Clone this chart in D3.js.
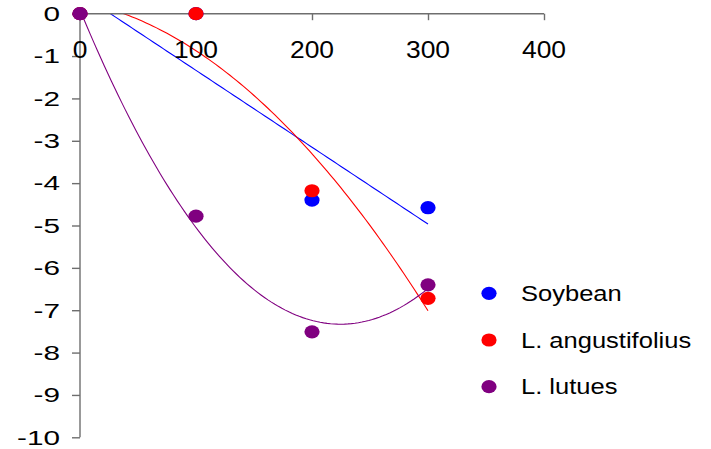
<!DOCTYPE html>
<html>
<head>
<meta charset="utf-8">
<script src="https://cdn.jsdelivr.net/npm/d3@7"></script>
<style>
  html, body { margin: 0; padding: 0; background: #fff; }
  svg { display: block; font-family: "Liberation Sans", Arial, sans-serif; }
</style>
</head>
<body>
<svg id="chart" width="711" height="449"></svg>
<script>
// Dose levels on the x axis
const doses = [0, 100, 200, 300];
// Response per species at each dose
const soybean = [0, 0, -4.4, -4.58];
const angustifolius = [0, 0, -4.18, -6.72];
const lutues = [0, -4.78, -7.51, -6.40];
// Series names and colours, in drawing order
const seriesNames = ["Soybean", "L. angustifolius", "L. lutues"];
const seriesColors = ["#0000ff", "#ff0000", "#800080"];
// Trendline polynomial order per series (1 = linear)
const trendOrders = [1, 2, 2];
// Axis ticks
const xTicks = [0, 100, 200, 300, 400];
const yTicks = [0, -1, -2, -3, -4, -5, -6, -7, -8, -9, -10];

const seriesValues = [soybean, angustifolius, lutues];

const svg = d3.select("#chart");
const x = d3.scaleLinear().domain([0, 400]).range([80, 544]);
const y = d3.scaleLinear().domain([-10, 0]).range([437.3, 13.7]);

// Least-squares polynomial fit through the normal equations
function polyFit(xs, ys, order) {
  const n = order + 1;
  const A = Array.from({length: n}, () => new Array(n + 1).fill(0));
  for (let i = 0; i < n; i++) {
    for (let j = 0; j < n; j++) {
      A[i][j] = d3.sum(xs, v => Math.pow(v, i + j));
    }
    A[i][n] = d3.sum(xs, (v, k) => Math.pow(v, i) * ys[k]);
  }
  for (let c = 0; c < n; c++) {
    let p = c;
    for (let r = c + 1; r < n; r++) if (Math.abs(A[r][c]) > Math.abs(A[p][c])) p = r;
    [A[c], A[p]] = [A[p], A[c]];
    for (let r = 0; r < n; r++) {
      if (r === c) continue;
      const f = A[r][c] / A[c][c];
      for (let k = c; k <= n; k++) A[r][k] -= f * A[c][k];
    }
  }
  const coef = A.map((row, i) => row[n] / row[i]);
  return v => coef.reduce((s, a, i) => s + a * Math.pow(v, i), 0);
}

svg.append("clipPath").attr("id", "plot")
  .append("rect")
  .attr("x", x(0)).attr("y", y(0))
  .attr("width", x(400) - x(0)).attr("height", y(-10) - y(0));

// Trendlines
const line = d3.line().x(d => x(d[0])).y(d => y(d[1]));
const trendGroup = svg.append("g").attr("clip-path", "url(#plot)");
seriesValues.forEach((vals, si) => {
  const f = polyFit(doses.map(d => d / 100), vals, trendOrders[si]);
  const pts = d3.range(0, 301, 3).map(v => [v, f(v / 100)]);
  trendGroup.append("path")
    .attr("d", line(pts))
    .attr("fill", "none")
    .attr("stroke", seriesColors[si])
    .attr("stroke-width", 1.1);
});

// Axes
const axisColor = "#6e6e6e";
const xAxis = svg.append("g").attr("transform", `translate(0,${y(0)})`)
  .call(d3.axisBottom(x).tickValues(xTicks).tickSize(6.5).tickFormat(""));
const yAxis = svg.append("g").attr("transform", `translate(${x(0)},0)`)
  .call(d3.axisLeft(y).tickValues(yTicks).tickSize(8).tickFormat(""));
[xAxis, yAxis].forEach(g => {
  g.select(".domain").attr("stroke", axisColor).attr("stroke-width", 1.4);
  g.selectAll(".tick line").attr("stroke", axisColor).attr("stroke-width", 1.4);
});
xAxis.select(".domain").attr("d", `M${x(0)},0H${x(400)}`);
yAxis.select(".domain").attr("d", `M0,${y(0)}V${y(-10)}`);

// Tick labels, drawn horizontally widened
svg.append("g").selectAll("text").data(xTicks).join("text")
  .attr("transform", d => `translate(${x(d)},57.5) scale(1.1,1)`)
  .attr("text-anchor", "middle")
  .attr("font-size", 24)
  .attr("fill", "#000")
  .text(d => d);
svg.append("g").selectAll("text").data(yTicks).join("text")
  .attr("transform", d => `translate(60,${y(d) + 7.3}) scale(1.45,1)`)
  .attr("text-anchor", "end")
  .attr("font-size", 20.5)
  .attr("fill", "#000")
  .text(d => d);

// Data markers
seriesValues.forEach((vals, si) => {
  svg.append("g").selectAll("ellipse").data(vals).join("ellipse")
    .attr("cx", (d, i) => x(doses[i]))
    .attr("cy", d => y(d))
    .attr("rx", 7.6).attr("ry", 6.6)
    .attr("fill", seriesColors[si]);
});

// Legend
const legend = svg.append("g").selectAll("g").data(seriesNames).join("g")
  .attr("transform", (d, i) => `translate(489,${293.3 + i * 46.7})`);
legend.append("ellipse").attr("rx", 7.6).attr("ry", 6.6)
  .attr("fill", (d, i) => seriesColors[i]);
legend.append("text")
  .attr("transform", "translate(32,7.6) scale(1.16,1)")
  .attr("font-size", 22)
  .attr("fill", "#000")
  .text(d => d);
</script>
</body>
</html>
